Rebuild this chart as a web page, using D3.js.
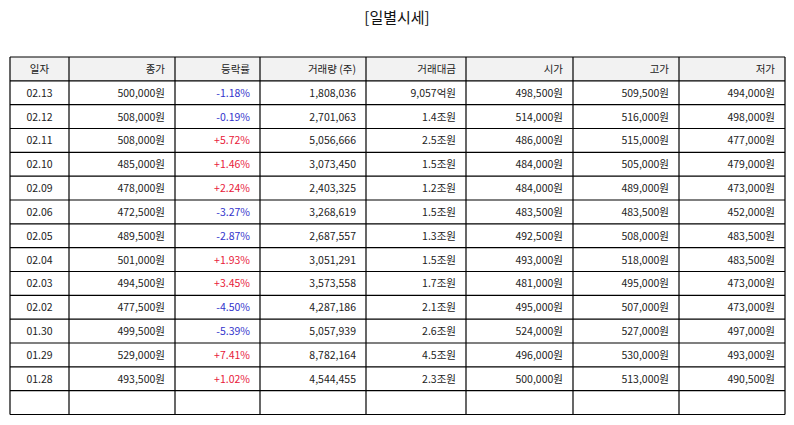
<!DOCTYPE html>
<html><head><meta charset="utf-8">
<script src="https://cdn.jsdelivr.net/npm/d3@7"></script>
<style>body{margin:0;background:#fff}</style></head>
<body><svg id="c" width="794" height="425"></svg>
<script>
const headers = ["일자","종가","등락률","거래량 (주)","거래대금","시가","고가","저가"];
const dates = ["02.13","02.12","02.11","02.10","02.09","02.06","02.05","02.04","02.03","02.02","01.30","01.29","01.28"];
const close = ["500,000원","508,000원","508,000원","485,000원","478,000원","472,500원","489,500원","501,000원","494,500원","477,500원","499,500원","529,000원","493,500원"];
const change = ["-1.18%","-0.19%","+5.72%","+1.46%","+2.24%","-3.27%","-2.87%","+1.93%","+3.45%","-4.50%","-5.39%","+7.41%","+1.02%"];
const volume = ["1,808,036","2,701,063","5,056,666","3,073,450","2,403,325","3,268,619","2,687,557","3,051,291","3,573,558","4,287,186","5,057,939","8,782,164","4,544,455"];
const amount = ["9,057억원","1.4조원","2.5조원","1.5조원","1.2조원","1.5조원","1.3조원","1.5조원","1.7조원","2.1조원","2.6조원","4.5조원","2.3조원"];
const open = ["498,500원","514,000원","486,000원","484,000원","484,000원","483,500원","492,500원","493,000원","481,000원","495,000원","524,000원","496,000원","500,000원"];
const high = ["509,500원","516,000원","515,000원","505,000원","489,000원","483,500원","508,000원","518,000원","495,000원","507,000원","527,000원","530,000원","513,000원"];
const low = ["494,000원","498,000원","477,000원","479,000원","473,000원","452,000원","483,500원","483,500원","473,000원","473,000원","497,000원","493,000원","490,500원"];

const cols = [dates,close,change,volume,amount,open,high,low];
const edges = [10,69,175,260,366,466,573,679,785];
const nRows = dates.length + 2; // header + data + empty row
const y = d3.scaleLinear().domain([0,nRows]).range([57,414.5]);
const svg = d3.select("#c");
const font = "'Noto Sans CJK KR','Noto Sans',sans-serif";

svg.append("text").attr("x",397).attr("y",23).attr("text-anchor","middle")
  .attr("font-family",font).attr("font-size",15).attr("fill","#111").text("[일별시세]");

svg.append("rect").attr("x",edges[0]).attr("y",y(0)).attr("width",edges[8]-edges[0]).attr("height",y(1)-y(0)).attr("fill","#f2f2f2");

const g = svg.append("g").attr("font-family",font).attr("font-size",10.5);
headers.forEach((h,i)=>{
  const c0 = i===0;
  g.append("text").attr("x",c0?(edges[0]+edges[1])/2:edges[i+1]-10).attr("y",(y(0)+y(1))/2+4)
   .attr("text-anchor",c0?"middle":"end").attr("fill","#222").text(h);
});
cols.forEach((arr,i)=>{
  arr.forEach((v,r)=>{
    const c0 = i===0;
    let fill="#222";
    if(i===2) fill = v[0]==="+"?"#e8203a":"#3333cc";
    g.append("text").attr("x",c0?(edges[0]+edges[1])/2:edges[i+1]-10).attr("y",(y(r+1)+y(r+2))/2+4)
     .attr("text-anchor",c0?"middle":"end").attr("fill",fill).text(v);
  });
});
for(let r=0;r<=nRows;r++) svg.append("line").attr("x1",edges[0]).attr("x2",edges[8]).attr("y1",y(r)).attr("y2",y(r)).attr("stroke","#000").attr("stroke-width",1.2);
edges.forEach(e=>svg.append("line").attr("x1",e).attr("x2",e).attr("y1",y(0)).attr("y2",y(nRows)).attr("stroke","#000").attr("stroke-width",1.2));
</script></body></html>
